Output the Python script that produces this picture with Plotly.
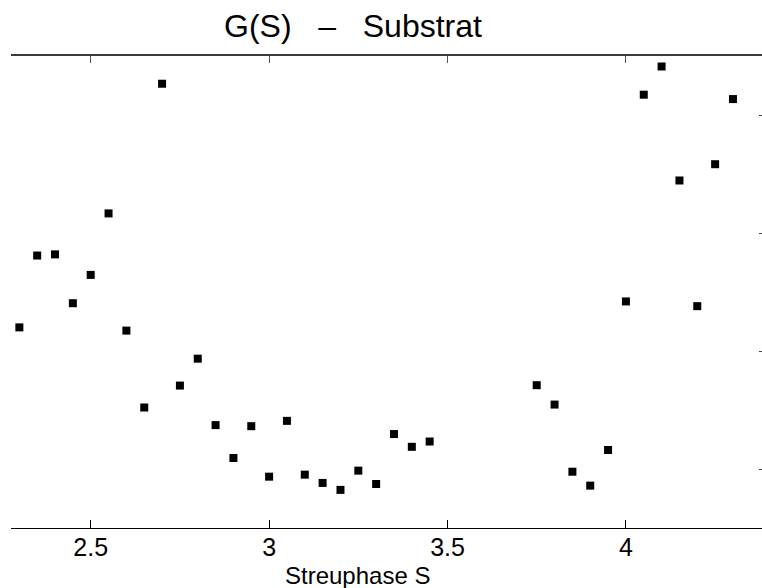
import plotly.graph_objects as go

# Data
streuphase = [2.30, 2.35, 2.40, 2.45, 2.50, 2.55, 2.60, 2.65, 2.70, 2.75,
              2.80, 2.85, 2.90, 2.95, 3.00, 3.05, 3.10, 3.15, 3.20, 3.25,
              3.30, 3.35, 3.40, 3.45,
              3.75, 3.80, 3.85, 3.90, 3.95, 4.00, 4.05, 4.10, 4.15, 4.20,
              4.25, 4.30]
g_values = [2.200, 2.809, 2.819, 2.405, 2.645, 3.166, 2.173, 1.521, 4.265, 1.707,
            1.935, 1.372, 1.093, 1.363, 0.935, 1.408, 0.952, 0.882, 0.823, 0.986,
            0.873, 1.296, 1.188, 1.233,
            1.710, 1.546, 0.977, 0.859, 1.161, 2.420, 4.172, 4.411, 3.445, 2.380,
            3.583, 4.135]

x_ticks = [2.5, 3, 3.5, 4]
x_tick_labels = ["2.5", "3", "3.5", "4"]
y_ticks = [1, 2, 3, 4]

nb = "\u00a0"
title_text = "G(S)" + nb * 3 + "\u2013" + nb * 3 + "Substrat"
x_label = "Streuphase S"

x_range = [2.2766, 4.3814]
y_range = [0.5, 4.5]

font_family = "Liberation Sans, Arial, Helvetica, sans-serif"

W, H = 762, 588
ML, MR, MT, MB = 11, 0, 56, 60
plot_w = W - ML - MR
plot_h = H - MT - MB

fig = go.Figure()
fig.add_trace(go.Scatter(
    x=streuphase, y=g_values, mode="markers",
    marker=dict(symbol="square", size=8, color="black", line=dict(width=0)),
    showlegend=False, hoverinfo="skip",
))
# invisible trace to keep the top axis drawn
fig.add_trace(go.Scatter(x=[x_range[0]], y=[y_range[0]], xaxis="x2", mode="markers",
                         marker=dict(opacity=0), showlegend=False, hoverinfo="skip"))

fig.update_layout(
    width=W, height=H,
    margin=dict(l=ML, r=MR, t=MT, b=MB, pad=0),
    paper_bgcolor="white", plot_bgcolor="white",
    font=dict(family=font_family, color="black"),
    title=dict(text=title_text, x=353 / W, xanchor="center",
               y=1 - 26 / H, yanchor="middle", yref="container",
               font=dict(size=32, family=font_family, color="black")),
    xaxis=dict(range=x_range, tickvals=x_ticks, ticktext=x_tick_labels,
               ticks="inside", ticklen=8, tickcolor="black", tickwidth=1,
               showline=True, linecolor="black", linewidth=1,
               showgrid=False, zeroline=False, ticklabelstandoff=-3,
               tickfont=dict(size=25, family=font_family, color="black")),
    xaxis2=dict(range=x_range, matches="x", overlaying="x", side="top", anchor="y",
                tickvals=x_ticks, showticklabels=False,
                ticks="inside", ticklen=7, tickcolor="#555", tickwidth=1,
                showline=True, linecolor="#3a3a3a", linewidth=2,
                showgrid=False, zeroline=False),
    yaxis=dict(range=y_range, side="right", tickvals=y_ticks, showticklabels=False,
               ticks="inside", ticklen=3, tickcolor="#444", tickwidth=1,
               showline=False, showgrid=False, zeroline=False),
    annotations=[dict(text=x_label, xref="paper", yref="paper",
                      x=(357 - ML) / plot_w, y=-(575 - (H - MB)) / plot_h,
                      xanchor="center", yanchor="middle", showarrow=False,
                      font=dict(size=24, family=font_family, color="black"))],
)

fig.write_html("out.html",
               config={"displayModeBar": False},
               post_script="document.body.style.margin='0';document.body.style.overflow='hidden';")
